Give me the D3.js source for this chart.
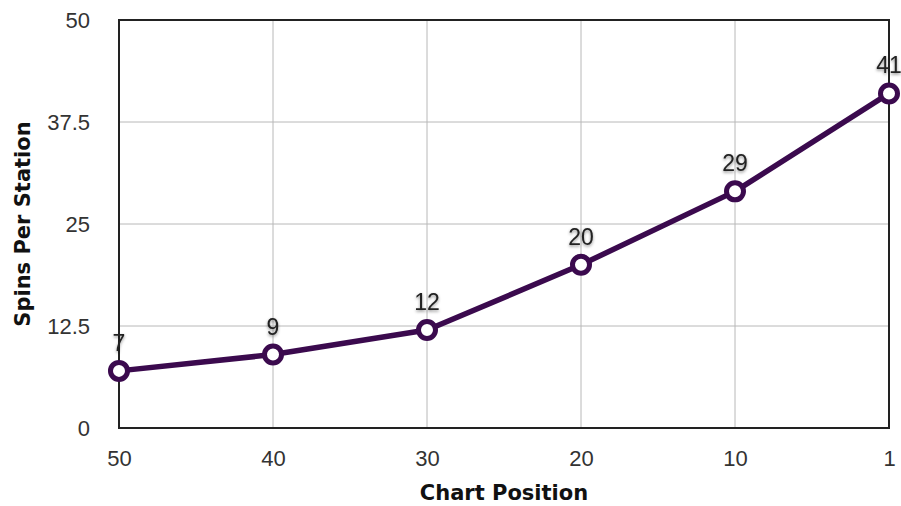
<!DOCTYPE html>
<html>
<head>
<meta charset="utf-8">
<script src="https://cdn.jsdelivr.net/npm/d3@7/dist/d3.min.js"></script>
<style>
  body { margin: 0; background: #fff; }
</style>
</head>
<body>
<div id="chart"></div>
<script>
var width = 901;
var height = 506;
var margin = { top: 20, right: 12, bottom: 78, left: 119 };

var positions = ['50', '40', '30', '20', '10', '1'];
var spins = [7, 9, 12, 20, 29, 41];
var yTicks = [0, 12.5, 25, 37.5, 50];

var lineColor = '#3b0a4e';

var svg = d3.select('#chart')
  .append('svg')
  .attr('width', width)
  .attr('height', height);

var defs = svg.append('defs');
var shadow = defs.append('filter')
  .attr('id', 'shadow')
  .attr('x', '-50%').attr('y', '-50%')
  .attr('width', '200%').attr('height', '200%');
shadow.append('feDropShadow')
  .attr('dx', 0).attr('dy', 1.5)
  .attr('stdDeviation', 1.5)
  .attr('flood-color', '#000')
  .attr('flood-opacity', 0.45);

var plotW = width - margin.left - margin.right;
var plotH = height - margin.top - margin.bottom;

var x = d3.scalePoint()
  .domain(positions)
  .range([0, plotW]);

var y = d3.scaleLinear()
  .domain([0, 50])
  .range([plotH, 0]);

var g = svg.append('g')
  .attr('transform', 'translate(' + margin.left + ',' + margin.top + ')');

// grid lines
g.append('g')
  .selectAll('line.vgrid')
  .data(positions)
  .enter().append('line')
  .attr('x1', function(d) { return x(d); })
  .attr('x2', function(d) { return x(d); })
  .attr('y1', 0)
  .attr('y2', plotH)
  .attr('stroke', '#b8b8b8')
  .attr('stroke-width', 1);

g.append('g')
  .selectAll('line.hgrid')
  .data(yTicks)
  .enter().append('line')
  .attr('x1', 0)
  .attr('x2', plotW)
  .attr('y1', function(d) { return y(d); })
  .attr('y2', function(d) { return y(d); })
  .attr('stroke', '#b8b8b8')
  .attr('stroke-width', 1);

// frame
g.append('rect')
  .attr('x', 0).attr('y', 0)
  .attr('width', plotW).attr('height', plotH)
  .attr('fill', 'none')
  .attr('stroke', '#222')
  .attr('stroke-width', 2);

// axes (labels only)
var xAxis = g.append('g')
  .attr('transform', 'translate(0,' + plotH + ')')
  .call(d3.axisBottom(x).tickSize(0).tickPadding(22));
xAxis.select('.domain').remove();
xAxis.selectAll('text')
  .attr('font-family', 'Liberation Sans, Arial, sans-serif')
  .attr('font-size', 22)
  .attr('fill', '#333');

var yAxis = g.append('g')
  .call(d3.axisLeft(y).tickValues(yTicks).tickSize(0).tickPadding(29)
    .tickFormat(function(d) { return String(d); }));
yAxis.select('.domain').remove();
yAxis.selectAll('text')
  .attr('font-family', 'Liberation Sans, Arial, sans-serif')
  .attr('font-size', 22)
  .attr('fill', '#333');

// axis titles
svg.append('text')
  .attr('x', margin.left + plotW / 2)
  .attr('y', 500)
  .attr('text-anchor', 'middle')
  .attr('font-family', 'DejaVu Sans, Verdana, sans-serif')
  .attr('font-weight', 'bold')
  .attr('font-size', 21)
  .attr('fill', '#111')
  .text('Chart Position');

svg.append('text')
  .attr('transform', 'translate(30,' + (margin.top + plotH / 2) + ') rotate(-90)')
  .attr('text-anchor', 'middle')
  .attr('font-family', 'DejaVu Sans, Verdana, sans-serif')
  .attr('font-weight', 'bold')
  .attr('font-size', 21)
  .attr('fill', '#111')
  .text('Spins Per Station');

// line
var data = positions.map(function(p, i) { return { pos: p, value: spins[i] }; });

var line = d3.line()
  .x(function(d) { return x(d.pos); })
  .y(function(d) { return y(d.value); });

g.append('path')
  .datum(data)
  .attr('d', line)
  .attr('fill', 'none')
  .attr('stroke', lineColor)
  .attr('stroke-width', 5.5)
  .attr('stroke-linejoin', 'round');

// points
g.selectAll('circle.pt')
  .data(data)
  .enter().append('circle')
  .attr('cx', function(d) { return x(d.pos); })
  .attr('cy', function(d) { return y(d.value); })
  .attr('r', 8.5)
  .attr('fill', '#fff')
  .attr('stroke', lineColor)
  .attr('stroke-width', 5);

// value labels
g.selectAll('text.lbl')
  .data(data)
  .enter().append('text')
  .attr('x', function(d) { return x(d.pos); })
  .attr('y', function(d) { return y(d.value) - 20; })
  .attr('text-anchor', 'middle')
  .attr('font-family', 'Liberation Sans, Arial, sans-serif')
  .attr('font-size', 23)
  .attr('fill', '#222')
  .attr('filter', 'url(#shadow)')
  .text(function(d) { return d.value; });
</script>
</body>
</html>
